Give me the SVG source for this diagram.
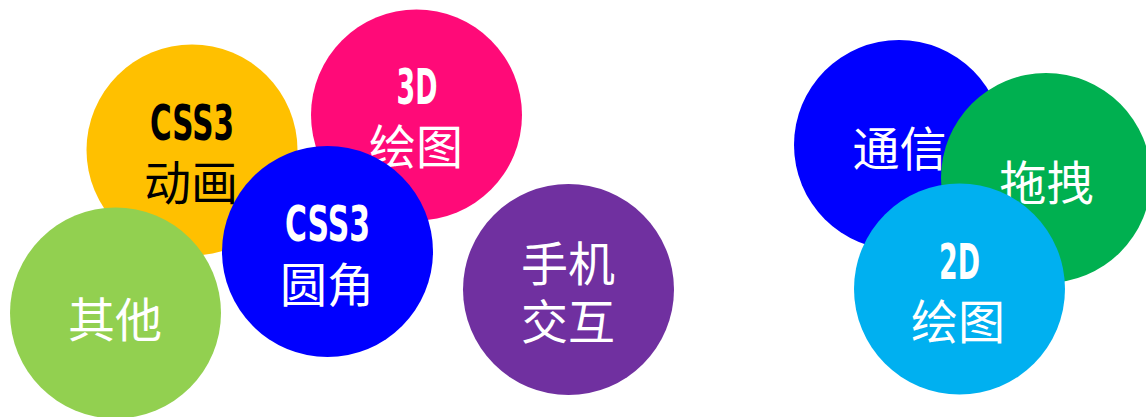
<svg xmlns="http://www.w3.org/2000/svg" width="1146" height="417" viewBox="0 0 1146 417">
<style>
.lat{font-family:"DejaVu Sans","Liberation Sans",sans-serif;font-weight:bold;font-size:49px;text-anchor:middle}
.cjk{font-family:"Noto Sans CJK SC","Noto Sans",sans-serif;font-size:47px;text-anchor:middle}
.w{fill:#FFFFFF}
.k{fill:#000000}
</style>
<rect width="1146" height="417" fill="#FFFFFF"/>
<g id="node-css3-anim">
<circle cx="192" cy="150" r="105.5" fill="#FFC000"/>
<text class="lat k" x="192" y="140" textLength="84" lengthAdjust="spacingAndGlyphs">CSS3</text>
<text class="cjk k" x="191" y="200">动画</text>
</g>
<g id="node-3d">
<circle cx="416.5" cy="115" r="105.5" fill="#FF0A78"/>
<text class="lat w" x="417" y="104" textLength="41" lengthAdjust="spacingAndGlyphs">3D</text>
<text class="cjk w" x="416" y="164">绘图</text>
</g>
<g id="node-other">
<circle cx="115.5" cy="313" r="105.5" fill="#92D050"/>
<text class="cjk w" x="115" y="337">其他</text>
</g>
<g id="node-css3-radius">
<circle cx="327.5" cy="251.5" r="105.5" fill="#0000FF"/>
<text class="lat w" x="327.5" y="241" textLength="85" lengthAdjust="spacingAndGlyphs">CSS3</text>
<text class="cjk w" x="327" y="302">圆角</text>
</g>
<g id="node-mobile">
<circle cx="568.5" cy="289.5" r="105.5" fill="#7030A0"/>
<text class="cjk w" x="568" y="281">手机</text>
<text class="cjk w" x="568" y="339">交互</text>
</g>
<g id="node-comm">
<circle cx="899" cy="145" r="105" fill="#0000FF"/>
<text class="cjk w" x="899.5" y="166">通信</text>
</g>
<g id="node-drag">
<circle cx="1046" cy="178" r="105" fill="#00B050"/>
<text class="cjk w" x="1046.5" y="200">拖拽</text>
</g>
<g id="node-2d">
<circle cx="959.5" cy="289" r="105.5" fill="#00B0F0"/>
<text class="lat w" x="959.5" y="279" textLength="41" lengthAdjust="spacingAndGlyphs">2D</text>
<text class="cjk w" x="958" y="339">绘图</text>
</g>
<g id="connectors"></g>
</svg>
